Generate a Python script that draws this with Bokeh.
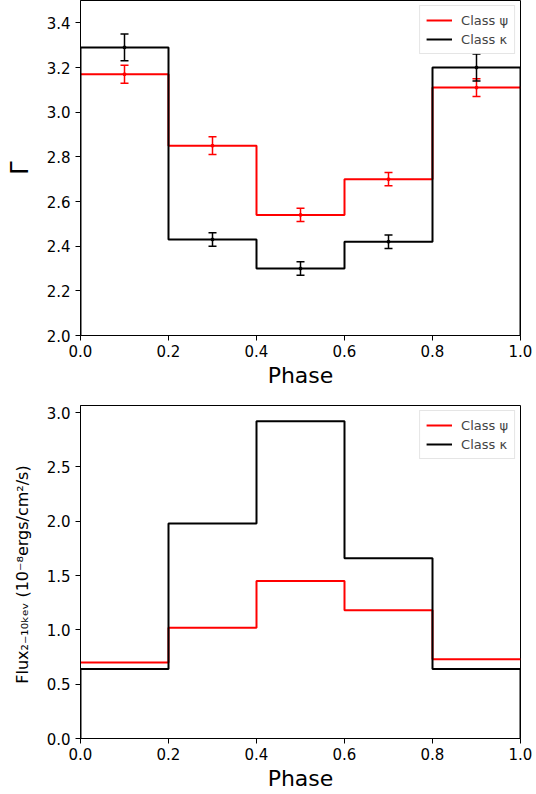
from bokeh.plotting import figure
from bokeh.layouts import column
from bokeh.models import FixedTicker, PrintfTickFormatter, Range1d, Legend, LegendItem
from bokeh.embed import file_html
from bokeh.resources import INLINE

# ---- data ----
edges = [0.0, 0.2, 0.4, 0.6, 0.8, 1.0]
phase = [0.1, 0.3, 0.5, 0.7, 0.9]

gamma_psi = [3.17, 2.85, 2.54, 2.70, 3.11]
gamma_psi_err = [0.04, 0.04, 0.03, 0.03, 0.04]
gamma_kappa = [3.29, 2.43, 2.30, 2.42, 3.20]
gamma_kappa_err = [0.06, 0.03, 0.03, 0.03, 0.06]

flux_psi = [0.70, 1.02, 1.45, 1.18, 0.73]
flux_kappa = [0.64, 1.98, 2.92, 1.66, 0.64]

x_ticks = [0.0, 0.2, 0.4, 0.6, 0.8, 1.0]
gamma_ticks = [2.0, 2.2, 2.4, 2.6, 2.8, 3.0, 3.2, 3.4]
flux_ticks = [0.0, 0.5, 1.0, 1.5, 2.0, 2.5, 3.0]

RED = "#ff0000"
BLACK = "#000000"
FONT = "DejaVu Sans"


def stairs(vals, base=None):
    xs, ys = [], []
    if base is not None:
        xs.append(edges[0]); ys.append(base)
    for i, v in enumerate(vals):
        xs += [edges[i], edges[i + 1]]
        ys += [v, v]
    if base is not None:
        xs.append(edges[-1]); ys.append(base)
    return xs, ys


def style(p, yticks, ylabel, ylabel_size, ylabel_standoff):
    p.xaxis.ticker = FixedTicker(ticks=x_ticks)
    p.yaxis.ticker = FixedTicker(ticks=yticks)
    p.xaxis.formatter = PrintfTickFormatter(format="%.1f")
    p.yaxis.formatter = PrintfTickFormatter(format="%.1f")
    p.xgrid.visible = False
    p.ygrid.visible = False
    p.outline_line_color = "black"
    p.outline_line_width = 1
    p.outline_line_alpha = 1
    for ax in (p.xaxis[0], p.yaxis[0]):
        ax.axis_line_color = "black"
        ax.major_tick_line_color = "black"
        ax.major_tick_out = 5
        ax.major_tick_in = 0
        ax.minor_tick_line_color = None
        ax.major_label_text_font = FONT
        ax.major_label_text_font_size = "15px"
        ax.major_label_text_color = "#000000"
        ax.axis_label_text_font = FONT
        ax.axis_label_text_font_style = "normal"
        ax.axis_label_text_color = "#000000"
    p.xaxis.axis_label = "Phase"
    p.xaxis.axis_label_text_font_size = "22px"
    p.xaxis.axis_label_standoff = 3
    p.xaxis.major_label_standoff = 4
    p.yaxis.axis_label = ylabel
    p.yaxis.axis_label_text_font_size = ylabel_size
    p.yaxis.axis_label_standoff = ylabel_standoff
    p.yaxis.major_label_standoff = 5


def add_legend(p, r_psi, r_kappa):
    leg = Legend(items=[LegendItem(label="Class ψ", renderers=[r_psi]),
                        LegendItem(label="Class κ", renderers=[r_kappa])],
                 location="top_right")
    leg.label_text_font = FONT
    leg.label_text_font_size = "13px"
    leg.border_line_color = "#cccccc"
    leg.border_line_width = 1
    leg.background_fill_alpha = 0.8
    leg.glyph_width = 26
    leg.glyph_height = 16
    leg.label_height = 16
    leg.spacing = 3
    leg.padding = 6
    leg.margin = 5
    leg.label_standoff = 9
    p.add_layout(leg)


# ---- top: photon index ----
p1 = figure(width=532, height=390, output_backend="svg", toolbar_location=None,
            x_range=Range1d(0, 1), y_range=Range1d(2.0, 3.5),
            min_border_left=80, min_border_right=12, min_border_top=0, min_border_bottom=10)
style(p1, gamma_ticks, "Γ", "24px", 10)

xs, ys = stairs(gamma_psi)
r1 = p1.line(xs, ys, line_color=RED, line_width=2)
xs, ys = stairs(gamma_kappa, base=2.0)
r2 = p1.line(xs, ys, line_color=BLACK, line_width=2)

for vals, errs, col in ((gamma_psi, gamma_psi_err, RED), (gamma_kappa, gamma_kappa_err, BLACK)):
    lo = [v - e for v, e in zip(vals, errs)]
    hi = [v + e for v, e in zip(vals, errs)]
    p1.segment(phase, lo, phase, hi, line_color=col, line_width=1.5)
    p1.scatter(phase, lo, marker="dash", size=8, line_color=col, line_width=1.5)
    p1.scatter(phase, hi, marker="dash", size=8, line_color=col, line_width=1.5)
    p1.scatter(phase, vals, marker="circle", size=3, fill_color=col, line_color=col)

add_legend(p1, r1, r2)

# ---- bottom: flux ----
p2 = figure(width=532, height=403, output_backend="svg", toolbar_location=None,
            x_range=Range1d(0, 1), y_range=Range1d(0.0, 3.066),
            min_border_left=80, min_border_right=12, min_border_top=15, min_border_bottom=10)
style(p2, flux_ticks, "Flux₂₋₁₀ₖₑᵥ  (10⁻⁸ergs/cm²/s)", "16px", 12)

xs, ys = stairs(flux_psi)
r3 = p2.line(xs, ys, line_color=RED, line_width=2)
xs, ys = stairs(flux_kappa, base=0.0)
r4 = p2.line(xs, ys, line_color=BLACK, line_width=2)
add_legend(p2, r3, r4)

layout = column(p1, p2, spacing=0)
open("out.html", "w").write(file_html(layout, INLINE))
